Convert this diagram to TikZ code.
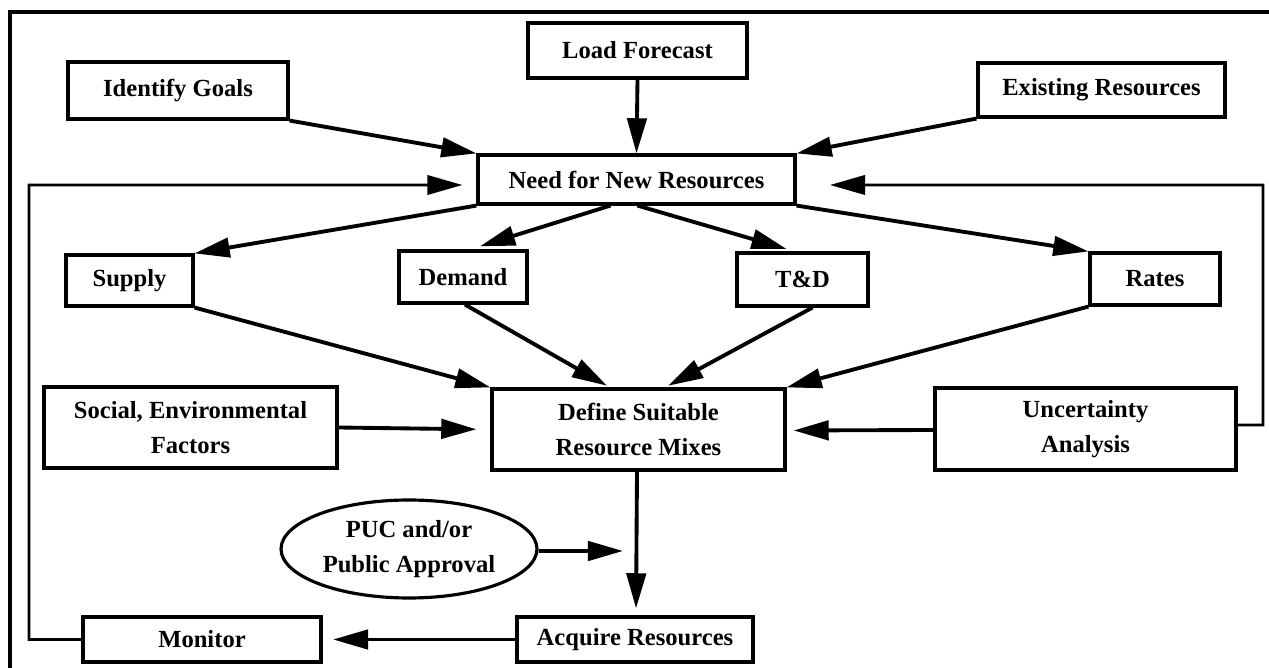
\documentclass[tikz,border=0pt]{standalone}
\usepackage{fontspec}
\setmainfont{Liberation Serif}
\usetikzlibrary{arrows.meta, shapes.geometric}

\begin{document}
\begin{tikzpicture}[
      % GLOBAL CFG
      x=0.02cm, y=-0.02cm,
      font=\bfseries\fontsize{14}{19.5}\selectfont,
      >={Triangle[length=20pt, width=11pt]},
      % Styles
      block/.style={% For plan steps
        rectangle,
        draw,
        line width=1.8pt,
        align=center,
        inner sep=2pt
      },
      oval/.style={% For approvals
        ellipse,
        draw,
        line width=1.8pt,
        align=center,
        inner sep=0pt
      },
      arrowflow/.style={% Arrows between steps
        line width=2.2pt,
        ->,
      },
      arrowloop/.style={% Arrows for feedback
        line width=1.6pt,
        ->,
      }
      ]

      \useasboundingbox (0,0) rectangle (1269,668);
      \draw [line width=2pt] (10,668) -- (10,12) -- (1269,12);

      % Top row
      \node [block, minimum width=4.4cm, minimum height=1.14cm] (goals) at (178,90.5) {Identify Goals};
      \node [block, minimum width=4.38cm, minimum height=1.1cm] (load) at (637.5,50.5) {Load Forecast};
      \node [block, minimum width=4.94cm, minimum height=1.08cm] (existing) at (1101.5,90) {Existing Resources};
      \node [block, minimum width=6.34cm, minimum height=0.98cm] (need) at (636.5,179.5) {Need for New Resources};
      \draw [arrowflow] (goals.south east) -- (need.north west);
      \draw [arrowflow] (load.south) -- (need.north);
      \draw [arrowflow] (existing.south west) -- (need.north east);

      % Options
      \node [block, minimum width=2.54cm, minimum height=1.02cm] (supply) at (129.5,280.5) {Supply};
      \node [block, minimum width=2.56cm, minimum height=1.04cm] (demand) at (463,277) {Demand};
      \node [block, minimum width=2.62cm, minimum height=1.06cm] (td) at (802.5,279.5) {T\&D};
      \node [block, minimum width=2.6cm, minimum height=1.04cm] (rates) at (1155,279) {Rates};
      \draw [arrowflow] (need.south west) -- (supply.north east);
      \draw [arrowflow, shorten >=6pt] ([xshift=-0.52cm]need.south) -- ([xshift=0.14cm]demand.north);
      \draw [arrowflow, shorten >=5pt] ([xshift=0.02cm]need.south) -- ([xshift=-0.15cm]td.north);
      \draw [arrowflow] (need.south east) -- (rates.north west);

      % Mixes
      \node [block, minimum width=5.86cm, minimum height=1.62cm] (social) at (190.5,427.5) {Social, Environmental\\Factors};
      \node [block, minimum width=5.86cm, minimum height=1.62cm] (define) at (638.5,429.5) {Define Suitable\\Resource Mixes};
      \node [block, minimum width=6.02cm, minimum height=1.64cm] (uncert) at (1085.5,429) {Uncertainty\\Analysis};
      \draw [arrowflow] (supply.south east) -- (define.north west);
      \draw [arrowflow, shorten >=2pt] ([xshift=0.04cm]demand.south) -- ([xshift=-0.57cm]define.north);
      \draw [arrowflow, shorten >=2pt] ([xshift=0.2cm]td.south) -- ([xshift=0.53cm]define.north);
      \draw [arrowflow] (rates.south west) -- (define.north east);
      \draw [arrowflow, shorten >=8pt] (social.east) -- (define.west);
      \draw [arrowflow, shorten >=4pt] ([yshift=-0.02cm]uncert.west) -- ([yshift=-0.02cm]define.east);

      % Acquisition
      \node [oval, minimum width=5.12cm, minimum height=1.96cm] (puc) at (409,549) {PUC and/or\\Public Approval};
      \node [block, minimum width=4.72cm, minimum height=0.9cm] (acquire) at (635,639.5) {Acquire Resources};
      \node [block, minimum width=4.76cm, minimum height=0.9cm] (monitor) at (202,639.5) {Monitor};
      \coordinate (join) at (623,551);
      \draw [arrowflow, shorten >=4pt] ([xshift=-0.03cm]define.south) -- ([xshift=0.02cm]acquire.north);
      \draw [arrowflow] ([yshift=-0.04cm]puc.east) -- (join);
      \draw [arrowflow, shorten >=6pt] (acquire.west) -- (monitor.east);

      % Feedback
      \coordinate (loopL) at (29,185);
      \coordinate (loopR) at (1263,185);
      \draw [arrowloop, shorten >=8pt] (monitor.west) -| (loopL) -- ([yshift=-0.11cm]need.west);
      \draw [arrowloop, shorten >=19pt] ([yshift=0.08cm]uncert.east) -| (loopR) -- ([yshift=-0.11cm]need.east);

    \end{tikzpicture}
\end{document}
